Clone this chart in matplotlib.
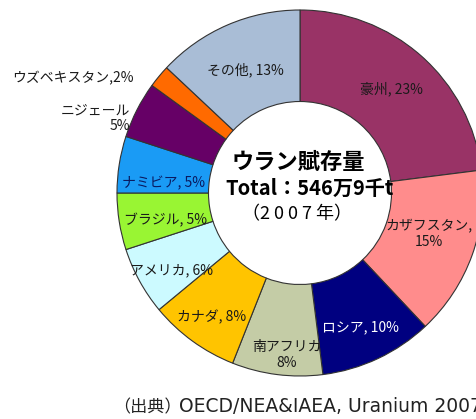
import matplotlib
matplotlib.use("Agg")
import matplotlib.pyplot as plt

plt.rcParams['font.family'] = ['Noto Sans CJK JP', 'DejaVu Sans']

# Uranium resources by country (2007), share in %
countries = ["豪州", "カザフスタン", "ロシア", "南アフリカ", "カナダ", "アメリカ",
             "ブラジル", "ナミビア", "ニジェール", "ウズベキスタン", "その他"]
shares = [23, 15, 10, 8, 8, 6, 5, 5, 5, 2, 13]
colors = ["#993366", "#FF8C8C", "#000080", "#C4CCA6", "#FFC400", "#CCFAFF",
          "#99F533", "#1A9BF5", "#660066", "#FF6A00", "#A9BDD6"]

title_lines = ["ウラン賦存量", "Total：546万9千t", "（2 0 0 7 年）"]
source_prefix = "（出典）"
source_text = "OECD/NEA&IAEA, Uranium 2007"

W, H = 477, 419
fig = plt.figure(figsize=(W / 100, H / 100), dpi=100)
ax = fig.add_axes([0, 0, 1, 1])

cx, cy, R = 300, H - 193, 183
ax.pie(shares, colors=colors, startangle=90, counterclock=False,
       center=(cx, cy), radius=R,
       wedgeprops=dict(width=R * 0.5, edgecolor="#333333", linewidth=0.8))
ax.set_xlim(0, W)
ax.set_ylim(0, H)
ax.set_aspect("equal")
ax.axis("off")

# label layout: (text template, x, y in pixels from top-left, ha, color)
fmt = {
    "豪州": ("{n}, {v}%", 391, 89, "center", "#1a1a1a"),
    "カザフスタン": ("{n},\n{v}%", 385, 234, "left", "#1a1a1a"),
    "ロシア": ("{n}, {v}%", 360, 327, "center", "white"),
    "南アフリカ": ("{n}\n{v}%", 287, 355, "center", "#1a1a1a"),
    "カナダ": ("{n}, {v}%", 212, 317, "center", "#1a1a1a"),
    "アメリカ": ("{n}, {v}%", 172, 270, "center", "#1a1a1a"),
    "ブラジル": ("{n}, {v}%", 166, 220, "center", "#1a1a1a"),
    "ナミビア": ("{n}, {v}%", 164, 183, "center", "#0a1a60"),
    "ニジェール": ("{n}\n{v}%", 130, 118, "right", "#1a1a1a"),
    "ウズベキスタン": ("{n},{v}%", 134, 78, "right", "#1a1a1a"),
    "その他": ("{n}, {v}%", 245, 70, "center", "#1a1a1a"),
}
for name, val in zip(countries, shares):
    tpl, x, y, ha, col = fmt[name]
    ax.text(x, H - y, tpl.format(n=name, v=val), ha=ha, va="center",
            fontsize=10, color=col, linespacing=1.15,
            multialignment="right" if ha == "right" else "center")

ax.text(298, H - 162, title_lines[0], ha="center", va="center",
        fontsize=16, fontweight="bold", color="black")
ax.text(310, H - 188, title_lines[1], ha="center", va="center",
        fontsize=14.5, fontweight="bold", color="black")
ax.text(297, H - 214, title_lines[2], ha="center", va="center",
        fontsize=13, color="black")

ax.text(113, H - 407, source_prefix, ha="left", va="center",
        fontsize=12.3, color="#222222")
ax.text(179, H - 407, source_text, ha="left", va="center",
        fontsize=13.5, color="#222222", family="DejaVu Sans")

fig.savefig("out.png", dpi=100)
